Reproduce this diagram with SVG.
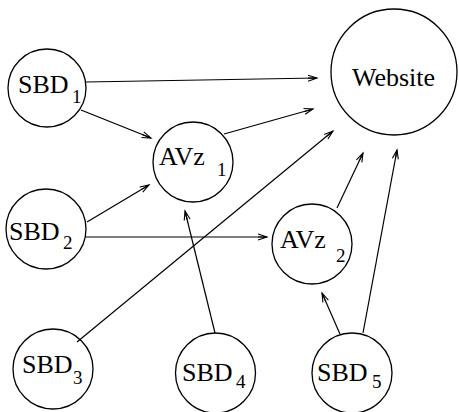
<svg xmlns="http://www.w3.org/2000/svg" width="459" height="412" viewBox="0 0 459 412">
<defs>
<style>
.n{fill:#fff;stroke:#000;stroke-width:1.3}
.e{fill:none;stroke:#000;stroke-width:1.2;marker-end:url(#ah)}
.t{font-family:"Liberation Serif","Times New Roman",serif;font-size:26px;fill:#000}
.s{font-family:"Liberation Serif","Times New Roman",serif;font-size:19px;fill:#000}
</style>
<marker id="ah" viewBox="-10 -5 12 10" markerWidth="12" markerHeight="10" refX="0" refY="0" orient="auto" markerUnits="userSpaceOnUse">
<path d="M-9,-3 L0,0 L-9,3 M-9,0 L0,0" fill="none" stroke="#000" stroke-width="1.1"/>
</marker>
</defs>
<rect width="459" height="412" fill="#fff"/>
<g id="nodes">
<g id="website"><circle class="n" cx="394" cy="72" r="63"/><text class="t" x="352" y="86">Website</text></g>
<g id="sbd1"><circle class="n" cx="47" cy="88" r="39"/><text class="t" x="18" y="93">SBD</text><text class="s" x="72" y="103">1</text></g>
<g id="avz1"><circle class="n" cx="193" cy="162" r="40"/><text class="t" x="159" y="165">AVz</text><text class="s" x="217" y="176">1</text></g>
<g id="sbd2"><circle class="n" cx="46" cy="229" r="40"/><text class="t" x="9" y="240">SBD</text><text class="s" x="63" y="249">2</text></g>
<g id="avz2"><circle class="n" cx="312" cy="244" r="40"/><text class="t" x="280" y="248">AVz</text><text class="s" x="336" y="262">2</text></g>
<g id="sbd3"><circle class="n" cx="53" cy="369" r="40"/><text class="t" x="22" y="373">SBD</text><text class="s" x="73" y="384">3</text></g>
<g id="sbd4"><circle class="n" cx="215.5" cy="373" r="40"/><text class="t" x="182" y="381">SBD</text><text class="s" x="236" y="388">4</text></g>
<g id="sbd5"><circle class="n" cx="352" cy="373" r="40"/><text class="t" x="317" y="381">SBD</text><text class="s" x="372" y="388">5</text></g>
</g>
<g id="connectors">
<line class="e" x1="86" y1="82" x2="317" y2="78"/>
<line class="e" x1="81" y1="110" x2="151" y2="138"/>
<line class="e" x1="224" y1="134" x2="313" y2="109"/>
<line class="e" x1="77" y1="342" x2="333" y2="131"/>
<line class="e" x1="87" y1="222" x2="149" y2="185"/>
<line class="e" x1="86" y1="237" x2="267" y2="237"/>
<line class="e" x1="337" y1="208" x2="363" y2="153"/>
<line class="e" x1="215" y1="333" x2="185" y2="211"/>
<line class="e" x1="340" y1="334" x2="322" y2="293"/>
<line class="e" x1="363" y1="333" x2="397" y2="150"/>
</g>
</svg>
